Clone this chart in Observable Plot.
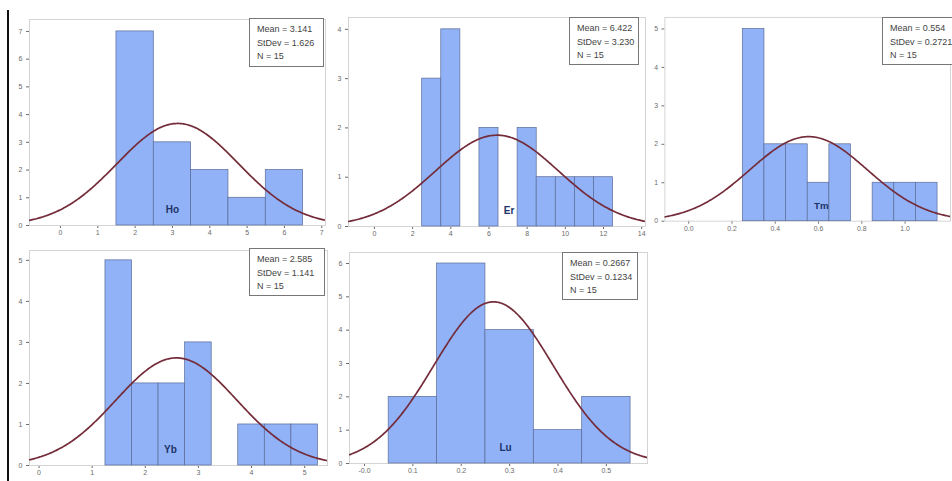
<!DOCTYPE html>
<html>
<head>
<meta charset="utf-8">
<script src="https://cdn.jsdelivr.net/npm/d3@7"></script>
<script src="https://cdn.jsdelivr.net/npm/@observablehq/plot@0.6"></script>
<style>
  html, body { margin: 0; padding: 0; background: #fff; overflow: hidden; }
  #root { position: relative; width: 952px; height: 481px; overflow: hidden; background: #fff; }
  .panel { position: absolute; }
  .panel svg { overflow: visible; }
  .stat { position: absolute; box-sizing: border-box; background: #fff; border: 1.3px solid #777;
          font-family: "Liberation Sans", Arial, sans-serif; font-size: 9px; line-height: 13.5px;
          color: #444; padding: 4px 0 0 7px; white-space: nowrap; }
  .vline { position: absolute; left: 7px; top: 10px; width: 2px; height: 471px; background: #111; }
</style>
</head>
<body>
<div id="root"><div class="vline"></div></div>
<script>
// ---- Data ----
const elements = ["Ho", "Er", "Tm", "Yb", "Lu"];
const means = [3.141, 6.422, 0.554, 2.585, 0.2667];
const meanLabels = ["3.141", "6.422", "0.554", "2.585", "0.2667"];
const stdevs = [1.626, 3.230, 0.2721, 1.141, 0.1234];
const stdevLabels = ["1.626", "3.230", "0.2721", "1.141", "0.1234"];
const counts_N = [15, 15, 15, 15, 15];
const binWidths = [1, 1, 0.1, 0.5, 0.1];

const hoBinStart = [1.5, 2.5, 3.5, 4.5, 5.5];
const hoCounts   = [7, 3, 2, 1, 2];
const erBinStart = [2.5, 3.5, 5.5, 7.5, 8.5, 9.5, 10.5, 11.5];
const erCounts   = [3, 4, 2, 2, 1, 1, 1, 1];
const tmBinStart = [0.25, 0.35, 0.45, 0.55, 0.65, 0.85, 0.95, 1.05];
const tmCounts   = [5, 2, 2, 1, 2, 1, 1, 1];
const ybBinStart = [1.25, 1.75, 2.25, 2.75, 3.75, 4.25, 4.75];
const ybCounts   = [5, 2, 2, 3, 1, 1, 1];
const luBinStart = [0.05, 0.15, 0.25, 0.35, 0.45];
const luCounts   = [2, 6, 4, 1, 2];

const hoXTicks = [0, 1, 2, 3, 4, 5, 6, 7];
const erXTicks = [0, 2, 4, 6, 8, 10, 12, 14];
const tmXTicks = [0, 0.2, 0.4, 0.6, 0.8, 1.0];
const ybXTicks = [0, 1, 2, 3, 4, 5];
const luXTicks = [0, 0.1, 0.2, 0.3, 0.4, 0.5];
const luXTickLabels = ["-0.0", "0.1", "0.2", "0.3", "0.4", "0.5"];
const hoYTicks = [0, 1, 2, 3, 4, 5, 6, 7];
const erYTicks = [0, 1, 2, 3, 4];
const tmYTicks = [0, 1, 2, 3, 4, 5];
const ybYTicks = [0, 1, 2, 3, 4, 5];
const luYTicks = [0, 1, 2, 3, 4, 5, 6];

// ---- Layout (positions, not data) ----
const layout = [
  {fx0: 29,  fx1: 325, fy0: 19,  fy1: 225, xd: [-0.83, 7.1],  yd: [0, 7.43], box: {dr: 1, dt: -1, w: 75, h: 49}, ldx: -5},
  {fx0: 348, fx1: 645, fy0: 17,  fy1: 226, xd: [-1.36, 14.2], yd: [0, 4.24], box: {dr: 6, dt: 0, w: 70, h: 48}, ldx: 12},
  {fx0: 665, fx1: 958, fy0: 17,  fy1: 226, xd: [-0.11, 1.21], yd: [0, 5.3],  box: {dr: -4, dt: 0, w: 80, h: 48}, ldx: 14},
  {fx0: 29,  fx1: 327, fy0: 250, fy1: 465, xd: [-0.18, 5.43], yd: [0, 5.24], box: {dr: 2, dt: -2, w: 76, h: 48}, ldx: -8},
  {fx0: 349, fx1: 647, fy0: 252, fy1: 463, xd: [-0.031, 0.585], yd: [0, 6.33], box: {dr: 9, dt: 0, w: 76, h: 48}, ldx: 7}
];

const binStarts = [hoBinStart, erBinStart, tmBinStart, ybBinStart, luBinStart];
const binCounts = [hoCounts, erCounts, tmCounts, ybCounts, luCounts];
const xTicks = [hoXTicks, erXTicks, tmXTicks, ybXTicks, luXTicks];
const yTicks = [hoYTicks, erYTicks, tmYTicks, ybYTicks, luYTicks];
const xFormats = [
  d3.format("d"), d3.format("d"), d3.format(".1f"), d3.format("d"),
  d => luXTickLabels[luXTicks.findIndex(t => Math.abs(t - d) < 1e-9)]
];

const root = document.getElementById("root");
const mL = 24, mR = 2, mT = 2, mB = 16;

elements.forEach((el, k) => {
  const L = layout[k];
  const w = binWidths[k];
  const bars = binStarts[k].map((s, i) => ({x1: s, x2: s + w, y: binCounts[k][i]}));
  const mu = means[k], sd = stdevs[k], n = counts_N[k];
  const step = (L.xd[1] - L.xd[0]) / 300;
  const curve = d3.range(L.xd[0], L.xd[1] + step, step).map(x => ({
    x, y: n * w * Math.exp(-0.5 * ((x - mu) / sd) ** 2) / (sd * Math.sqrt(2 * Math.PI))
  }));

  const width = L.fx1 - L.fx0 + mL + mR;
  const height = L.fy1 - L.fy0 + mT + mB;

  const chart = Plot.plot({
    width, height,
    marginLeft: mL, marginRight: mR, marginTop: mT, marginBottom: mB,
    style: {fontFamily: "Liberation Sans, Arial, sans-serif", fontSize: "7px", color: "#6a6a6a", background: "transparent"},
    x: {domain: L.xd, ticks: xTicks[k], tickFormat: xFormats[k], tickSize: 3, tickPadding: 2, label: null},
    y: {domain: L.yd, ticks: yTicks[k], tickFormat: d3.format("d"), tickSize: 3, tickPadding: 4, label: null},
    marks: [
      Plot.frame({stroke: "#d4d4d4", strokeWidth: 1}),
      Plot.rectY(bars, {x1: "x1", x2: "x2", y: "y", fill: "#91b2f7", stroke: "#5a6a96", strokeWidth: 0.7}),
      Plot.line(curve, {x: "x", y: "y", stroke: "#742c3a", strokeWidth: 1.7, clip: true}),
      Plot.text([el], {frameAnchor: "bottom", dx: L.ldx, dy: -13, text: d => d, fill: "#1d3468",
                       fontWeight: "bold", fontSize: 10, fontFamily: "Liberation Sans, Arial, sans-serif"})
    ]
  });

  const div = document.createElement("div");
  div.className = "panel";
  div.style.left = (L.fx0 - mL) + "px";
  div.style.top = (L.fy0 - mT) + "px";
  div.appendChild(chart);
  root.appendChild(div);

  const box = document.createElement("div");
  box.className = "stat";
  box.style.left = (L.fx1 - L.box.dr - L.box.w) + "px";
  box.style.top = (L.fy0 + L.box.dt) + "px";
  box.style.width = L.box.w + "px";
  box.style.height = L.box.h + "px";
  box.innerHTML = `Mean = ${meanLabels[k]}<br>StDev = ${stdevLabels[k]}<br>N = ${counts_N[k]}`;
  root.appendChild(box);
});
</script>
</body>
</html>
